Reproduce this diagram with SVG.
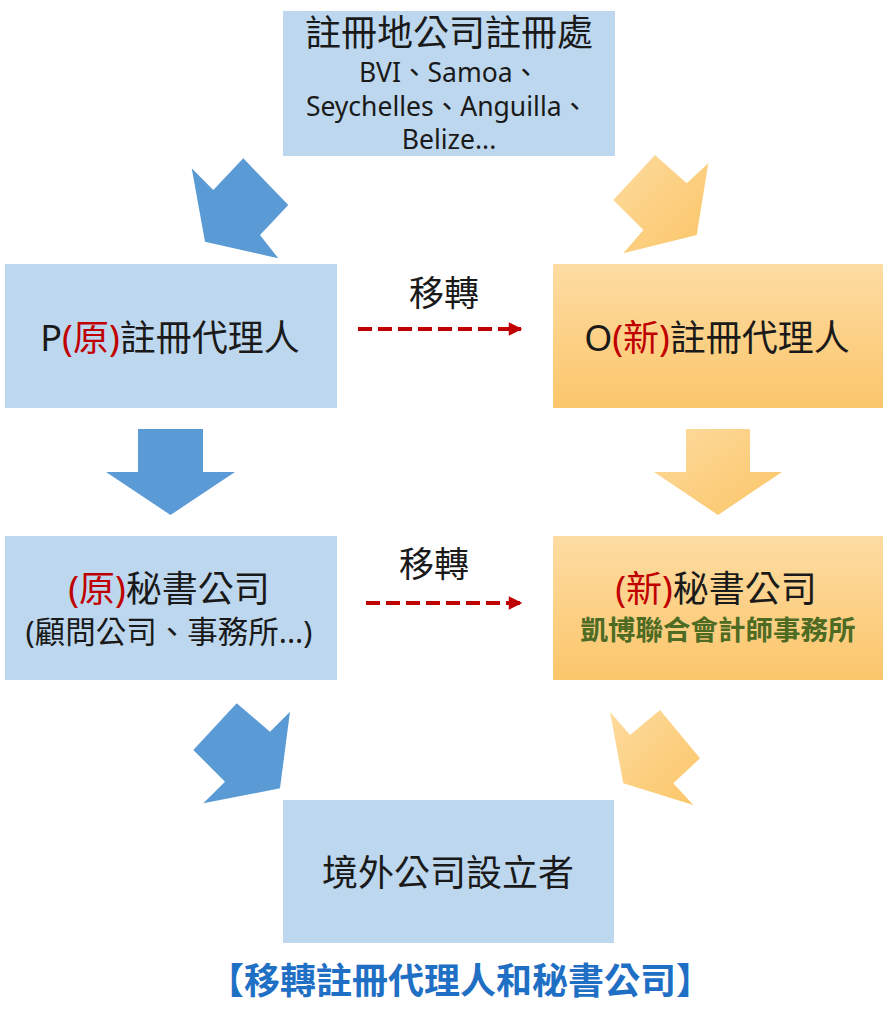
<svg xmlns="http://www.w3.org/2000/svg" width="883" height="1024" viewBox="0 0 883 1024">
<defs>
<linearGradient id="og" x1="0" y1="0" x2="0" y2="1">
<stop offset="0" stop-color="#fddca3"/>
<stop offset="1" stop-color="#fbc66b"/>
</linearGradient>
<linearGradient id="oa" x1="0" y1="0" x2="1" y2="1">
<stop offset="0" stop-color="#fddb9e"/>
<stop offset="1" stop-color="#fbc567"/>
</linearGradient>
<marker id="ah" viewBox="0 0 10 10" refX="9" refY="5" markerWidth="4" markerHeight="3.4" orient="auto" markerUnits="strokeWidth">
<path d="M0,0 L10,5 L0,10 Z" fill="#c00000"/>
</marker>
<style>
.blue{fill:#bdd7ee}
.orange{fill:url(#og)}
.barr{fill:#5b9bd5}
.oarr{fill:url(#oa)}
text{font-family:"Noto Sans","Noto Sans CJK TC",sans-serif;fill:#1a1a1a;text-anchor:middle}
.big{font-size:36px}
.mid{font-size:26.5px}
.red{fill:#c00000}
.dash{stroke:#c00000;stroke-width:4;stroke-dasharray:14 6;fill:none}
</style>
</defs>
<rect width="883" height="1024" fill="#ffffff"/>

<g id="connectors">
<polygon class="barr" points="205,241.7 191.7,168.3 213.3,190 243.3,158.3 288.3,205 260,235 278.3,258.3"/>
<polygon class="oarr" points="696.7,235 708.3,163.3 686.7,183.3 655,155 613.3,200 643.3,230 623.3,253.3"/>
<polygon class="barr" points="138,429 203,429 203,472 235,472 170.5,515 106,472 138,472"/>
<polygon class="oarr" points="686,429 750,429 750,472 782,472 718,515 654,472 686,472"/>
<polygon class="barr" points="280,788.3 290,711.7 270,731.7 236.7,703.3 193.3,750 225,781.7 203.3,803.3"/>
<polygon class="oarr" points="623.3,783.3 610,711.7 630,735 660,710 700,758.3 673.3,783.3 693.3,805"/>
<line class="dash" x1="358" y1="329" x2="521" y2="329" marker-end="url(#ah)"/>
<line class="dash" x1="366" y1="603" x2="521" y2="603" marker-end="url(#ah)"/>
<text x="444" y="306" style="font-size:35px">移轉</text>
<text x="434" y="577" style="font-size:35px">移轉</text>
</g>

<g id="registry">
<rect class="blue" x="283" y="11" width="332" height="145"/>
<text x="449" y="46" class="big">註冊地公司註冊處</text>
<text x="449" y="82" class="mid">BVI、Samoa、</text>
<text x="447" y="116" class="mid">Seychelles、Anguilla、</text>
<text x="449" y="149" class="mid">Belize...</text>
</g>

<g id="old-agent">
<rect class="blue" x="5" y="264" width="332" height="144"/>
<text x="170" y="351" class="big">P<tspan class="red">(原)</tspan>註冊代理人</text>
</g>

<g id="new-agent">
<rect class="orange" x="553" y="264" width="330" height="144"/>
<text x="717" y="351" class="big">O<tspan class="red">(新)</tspan>註冊代理人</text>
</g>

<g id="old-secretary">
<rect class="blue" x="5" y="536" width="332" height="144"/>
<text x="169" y="602" class="big"><tspan class="red">(原)</tspan>秘書公司</text>
<text x="169" y="643" style="font-size:30.5px">(顧問公司、事務所...)</text>
</g>

<g id="new-secretary">
<rect class="orange" x="553" y="536" width="330" height="144"/>
<text x="716" y="602" class="big"><tspan class="red">(新)</tspan>秘書公司</text>
<text x="718" y="640" style="font-size:27.5px;font-weight:bold;fill:#4e6b23">凱博聯合會計師事務所</text>
</g>

<g id="founder">
<rect class="blue" x="283" y="800" width="331" height="143"/>
<text x="448" y="886" class="big">境外公司設立者</text>
</g>

<g id="caption">
<text x="460" y="994" style="font-size:36px;font-weight:bold;fill:#1f6fc5">【移轉註冊代理人和秘書公司】</text>
</g>
</svg>
